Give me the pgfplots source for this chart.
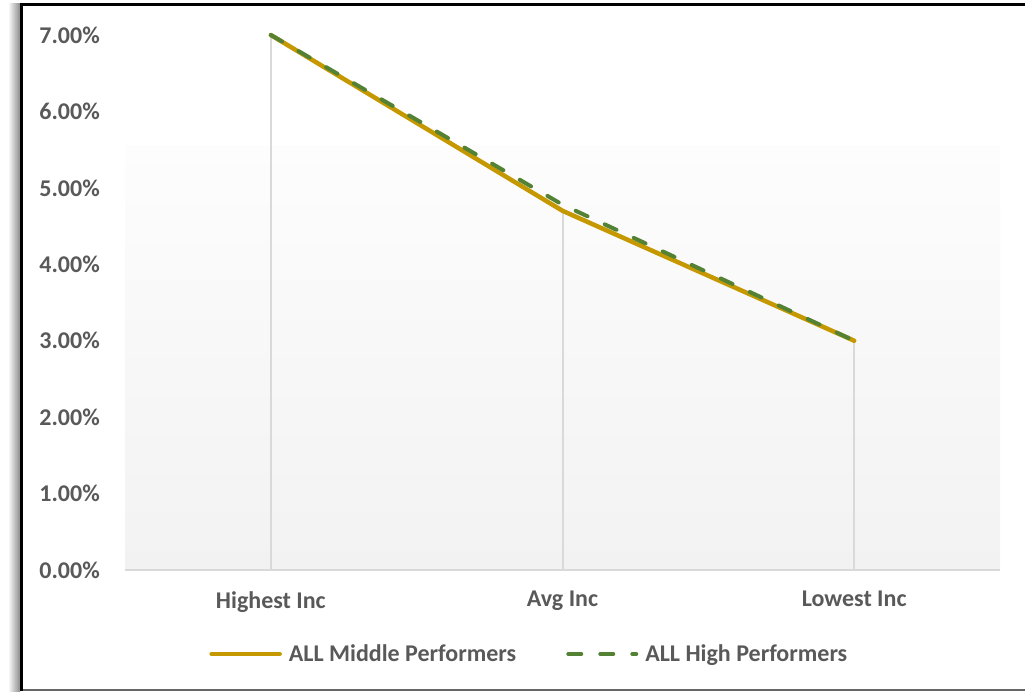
\documentclass[border=0pt]{standalone}
\usepackage{pgfplots}
\pgfplotsset{compat=1.18}
\usepackage{fontspec}
\setmainfont{Carlito}
\definecolor{txt}{HTML}{595959}
\definecolor{gold}{HTML}{C59800}
\definecolor{grn}{HTML}{548235}
\definecolor{gridc}{HTML}{D9D9D9}
\definecolor{bgtop}{HTML}{FDFDFD}
\definecolor{bgbot}{HTML}{F2F2F2}
\newcommand{\lblfont}{\fontsize{24}{28}\selectfont\bfseries}

\begin{document}
\begin{tikzpicture}
\useasboundingbox (0,0) rectangle (1025pt,692pt);
% chart frame with a soft shadow on the left
\shade[left color=white, right color=black!45] (8pt,0pt) rectangle (20pt,688pt);
\draw[black!60, line width=2pt] (21pt,2pt) -- (1025pt,2pt);
\draw[black, line width=3pt] (21pt,1pt) -- (21pt,687pt) -- (1025pt,687pt);

\begin{axis}[
  at={(125pt,122pt)}, anchor=south west,
  scale only axis, width=875pt, height=535pt,
  xmin=-0.5, xmax=2.5, ymin=0, ymax=7,
  axis line style={draw=none},
  major tick length=0pt,
  xtick={0,1,2},
  xticklabels={Highest Inc, Avg Inc, Lowest Inc},
  ytick={0,1,...,7},
  /pgf/number format/assume math mode=true,
  yticklabel={\pgfmathprintnumber[fixed, fixed zerofill, precision=2]{\tick}\%},
  yticklabel style={font=\lblfont, text=txt, anchor=east, inner sep=0pt, xshift=-25pt},
  xticklabel style={font=\lblfont, text=txt, anchor=north, inner sep=0pt, yshift=-21pt},
  clip=false,
  legend columns=2,
  legend style={at={(0.461,-0.157)}, anchor=center, draw=none, fill=none,
    font=\lblfont, text=txt, nodes={inner sep=0pt},
    /tikz/every odd column/.append style={column sep=7pt},
    /tikz/every even column/.append style={column sep=50pt}},
  legend image code/.code={\draw[#1] (0pt,0pt) -- (68pt,0pt);},
]
% plot-area background
\path[shade, top color=bgtop, bottom color=bgbot]
  (axis cs:-0.5,0) rectangle (axis cs:2.5,5.56);
\draw[gridc, line width=2pt] (axis cs:-0.5,0) -- (axis cs:2.5,0);

% drop lines
\addplot[ycomb, gridc, line width=2pt, forget plot] coordinates {(0,7.00) (1,4.70) (2,3.00)};

\addplot[gold, line width=4.5pt, line cap=round, line join=round]
  coordinates {(0,7.00) (1,4.70) (2,3.00)};
\addlegendentry{ALL Middle Performers}

\addplot[grn, line width=4pt, line cap=round, line join=round, dash pattern=on 13pt off 19pt]
  coordinates {(0,7.00) (1,4.78) (2,3.00)};
\addlegendentry{ALL High Performers}
\end{axis}
\end{tikzpicture}
\end{document}
